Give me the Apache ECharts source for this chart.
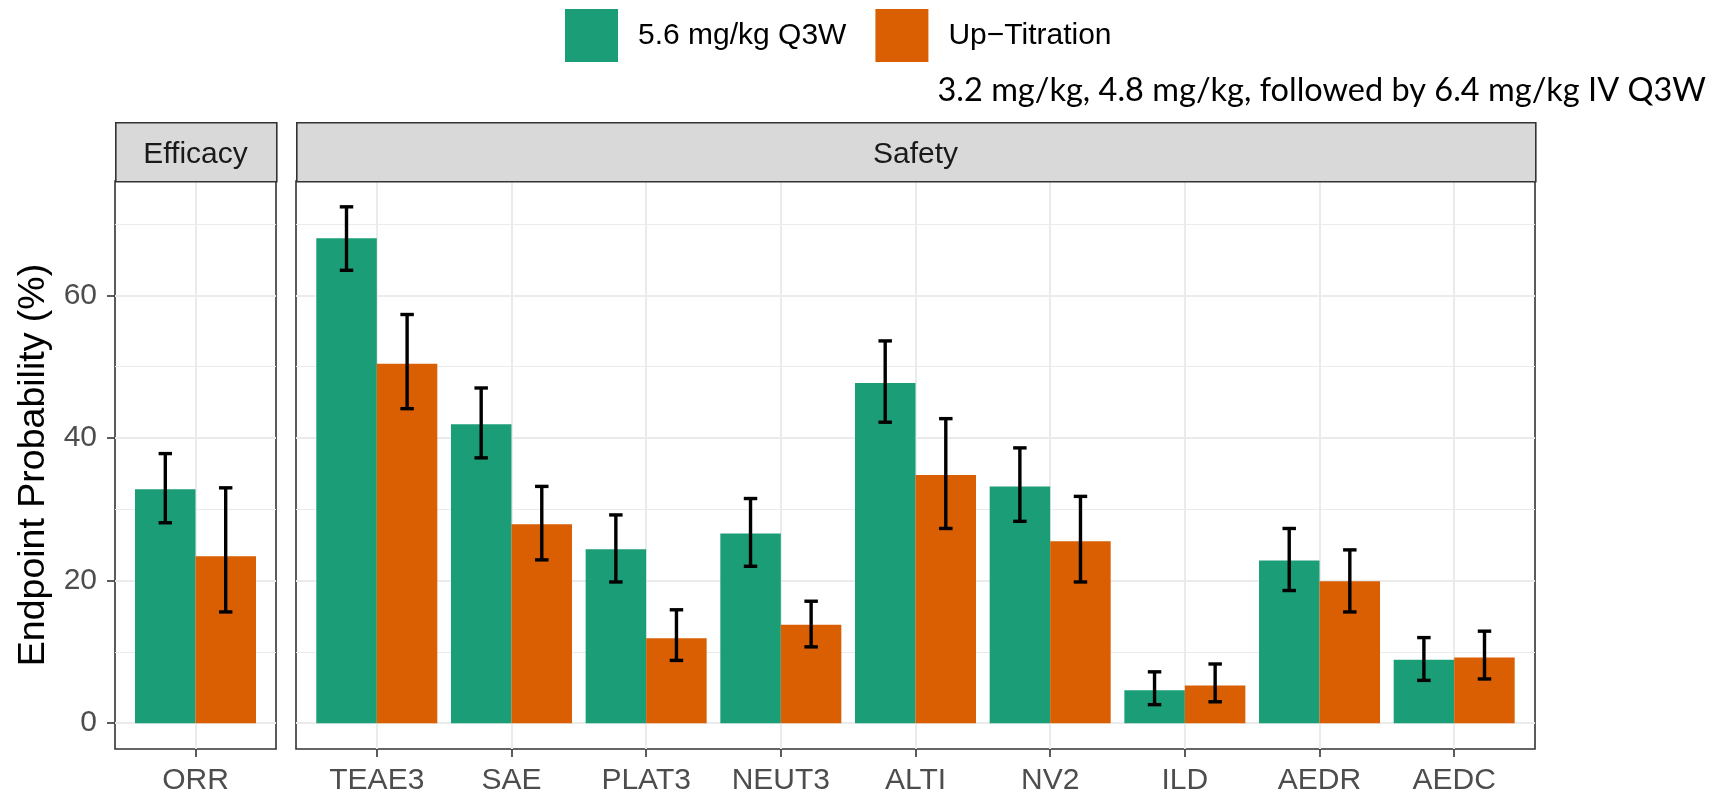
<!DOCTYPE html>
<html><head><meta charset="utf-8">
<script src="https://cdn.jsdelivr.net/npm/echarts@6/dist/echarts.min.js"></script>
<style>html,body{margin:0;padding:0;background:#fff}#c{width:1714px;height:793px}</style>
</head><body><div id="c"></div>
<script>
// ---------- data ----------
const seriesNames = ['5.6 mg/kg Q3W', 'Up\u2212Titration'];
const subtitleText = '3.2 mg/kg, 4.8 mg/kg, followed by 6.4 mg/kg IV Q3W';
const panelNames = ['Efficacy', 'Safety'];
const yTitle = 'Endpoint Probability (%)';
const yMajorTicks = [0, 20, 40, 60];
const yMinorTicks = [10, 30, 50, 70];

const efficacyCategories = ['ORR'];
const efficacyDose   = [32.8];
const efficacyDoseLo = [28.1];
const efficacyDoseHi = [37.8];
const efficacyUp     = [23.4];
const efficacyUpLo   = [15.6];
const efficacyUpHi   = [33.0];

const safetyCategories = ['TEAE3', 'SAE', 'PLAT3', 'NEUT3', 'ALTI', 'NV2', 'ILD', 'AEDR', 'AEDC'];
const safetyDose   = [68.0, 41.9, 24.4, 26.6, 47.7, 33.2, 4.6, 22.8, 8.9];
const safetyDoseLo = [63.5, 37.2, 19.8, 22.0, 42.2, 28.3, 2.6, 18.6, 6.0];
const safetyDoseHi = [72.4, 47.0, 29.2, 31.5, 53.6, 38.6, 7.2, 27.3, 12.0];
const safetyUp     = [50.4, 27.9, 11.9, 13.8, 34.8, 25.5, 5.3, 19.9, 9.2];
const safetyUpLo   = [44.1, 22.9, 8.8, 10.7, 27.3, 19.8, 3.0, 15.6, 6.2];
const safetyUpHi   = [57.3, 33.2, 15.9, 17.1, 42.7, 31.8, 8.3, 24.3, 12.9];

// ---------- styling / layout ----------
const colors = ['#1B9E77', '#D95F02'];
const FONT = 'Liberation Sans';
const gridTop = 181, gridHeight = 568;
const panelLayout = [{ left: 115, width: 161 }, { left: 296, width: 1239 }];
const stripTop = 122;
const barPx = 60.5;
const dodge = 0.225;   // half of dodged group width (units)
const capHalf = 0.05;  // half errorbar cap width (units)

const panels = [
  { cats: efficacyCategories, dose: efficacyDose, doseLo: efficacyDoseLo, doseHi: efficacyDoseHi,
    up: efficacyUp, upLo: efficacyUpLo, upHi: efficacyUpHi },
  { cats: safetyCategories, dose: safetyDose, doseLo: safetyDoseLo, doseHi: safetyDoseHi,
    up: safetyUp, upLo: safetyUpLo, upHi: safetyUpHi }
];

const allHi = [].concat(efficacyDoseHi, efficacyUpHi, safetyDoseHi, safetyUpHi);
const dataMax = Math.max.apply(null, allHi);
const yMin = -0.05 * dataMax, yMax = 1.05 * dataMax;

function errRender(offset) {
  return function (params, api) {
    const x = api.value(0) + offset;
    const lo = api.value(1), hi = api.value(2);
    const pHi = api.coord([x, hi]), pLo = api.coord([x, lo]);
    const xl = api.coord([x - capHalf, hi])[0], xr = api.coord([x + capHalf, hi])[0];
    const st = { stroke: '#000', lineWidth: 3.4 };
    return { type: 'group', children: [
      { type: 'line', shape: { x1: pHi[0], y1: pHi[1], x2: pLo[0], y2: pLo[1] }, style: st },
      { type: 'line', shape: { x1: xl, y1: pHi[1], x2: xr, y2: pHi[1] }, style: st },
      { type: 'line', shape: { x1: xl, y1: pLo[1], x2: xr, y2: pLo[1] }, style: st }
    ]};
  };
}

const grids = [], xAxes = [], yAxes = [], series = [], graphics = [];
panels.forEach(function (p, i) {
  const pos = p.cats.map(function (c, k) { return k + 1; });
  grids.push({ left: panelLayout[i].left, width: panelLayout[i].width, top: gridTop, height: gridHeight,
    show: true, borderColor: '#333333', borderWidth: 1.6, backgroundColor: '#fff',
    containLabel: false, outerBoundsMode: 'none' });
  xAxes.push({ type: 'value', gridIndex: i, min: 0.4, max: p.cats.length + 0.6,
    axisLine: { show: false, onZero: false },
    axisTick: { show: true, customValues: pos, length: 8, lineStyle: { color: '#333333', width: 1.6 } },
    axisLabel: { customValues: pos, fontSize: 30, color: '#4D4D4D', fontFamily: FONT, margin: 17,
      formatter: (function (cats) { return function (v) { return cats[Math.round(v) - 1]; }; })(p.cats) },
    splitLine: { show: true, lineStyle: { color: '#EBEBEB', width: 2 } }
  });
  yAxes.push({ type: 'value', gridIndex: i, min: yMin, max: yMax,
    axisLine: { show: false, onZero: false },
    axisTick: { show: i === 0, customValues: yMajorTicks, length: 8, lineStyle: { color: '#333333', width: 1.6 } },
    axisLabel: { show: i === 0, customValues: yMajorTicks, fontSize: 30, color: '#4D4D4D', fontFamily: FONT, margin: 18 },
    splitLine: { show: true, lineStyle: { color: '#EBEBEB', width: 2 } },
    name: i === 0 ? yTitle : '', nameLocation: 'middle', nameGap: 62, nameRotate: 90,
    nameTextStyle: { fontSize: 37.5, color: '#000', fontFamily: FONT }
  });
  yAxes.push({ type: 'value', gridIndex: i, min: yMin, max: yMax,
    axisLine: { show: false, onZero: false },
    axisTick: { show: false, customValues: yMinorTicks },
    axisLabel: { show: false, customValues: yMinorTicks },
    splitLine: { show: true, lineStyle: { color: '#EBEBEB', width: 1.2 } }
  });
  const groups = [[p.dose, p.doseLo, p.doseHi], [p.up, p.upLo, p.upHi]];
  groups.forEach(function (g, s) {
    series.push({ type: 'bar', name: seriesNames[s], xAxisIndex: i, yAxisIndex: 2 * i,
      data: pos.map(function (x, k) { return [x, g[0][k]]; }),
      barWidth: barPx, barGap: '0%', itemStyle: { color: colors[s] }, z: 2, animation: false });
  });
  groups.forEach(function (g, s) {
    series.push({ type: 'custom', name: 'err' + i + s, xAxisIndex: i, yAxisIndex: 2 * i, z: 5,
      renderItem: errRender(s === 0 ? -dodge : dodge),
      encode: { x: 0, y: [1, 2] },
      data: pos.map(function (x, k) { return [x, g[1][k], g[2][k]]; }), animation: false });
  });
  // strip
  graphics.push({ type: 'rect', left: panelLayout[i].left, top: stripTop, z: 10,
    shape: { x: 0, y: 0, width: panelLayout[i].width, height: gridTop - stripTop },
    style: { fill: '#D9D9D9', stroke: '#333333', lineWidth: 1.6 } });
  graphics.push({ type: 'text', z: 11,
    x: panelLayout[i].left + panelLayout[i].width / 2, y: (stripTop + gridTop) / 2 + 3,
    style: { text: panelNames[i], fontSize: 30, fontFamily: FONT, fill: '#1A1A1A', align: 'center', verticalAlign: 'middle' } });
});

const chart = echarts.init(document.getElementById('c'), null, { renderer: 'canvas' });
chart.setOption({
  animation: false,
  backgroundColor: '#fff',
  title: { text: subtitleText, right: 8, top: 74, padding: 0,
    textStyle: { fontFamily: 'Lato', fontSize: 32.5, fontWeight: 'normal', color: '#000' } },
  legend: { data: seriesNames, left: 565, top: 9, padding: 0, itemWidth: 53, itemHeight: 53, itemGap: 29, icon: 'rect',
    textStyle: { fontSize: 30, fontFamily: FONT, color: '#000', padding: [0, 0, 0, 15] } },
  grid: grids, xAxis: xAxes, yAxis: yAxes, series: series, graphic: graphics
});
</script></body></html>
